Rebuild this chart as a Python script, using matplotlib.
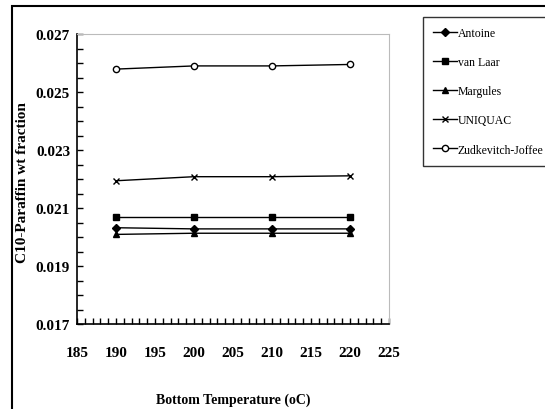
import numpy as np
from matplotlib import pyplot as plt
from matplotlib.patches import Rectangle
from matplotlib.ticker import MultipleLocator

plt.rcParams['font.family'] = ['Liberation Serif', 'DejaVu Serif']

# Data
temps = [190, 200, 210, 220]
antoine = [0.02032, 0.02028, 0.02028, 0.02028]
van_laar = [0.02070, 0.02070, 0.02070, 0.02070]
margules = [0.02009, 0.02013, 0.02013, 0.02013]
uniquac = [0.02194, 0.02208, 0.02208, 0.02211]
zudkevitch = [0.02579, 0.02590, 0.02590, 0.02595]
y_ticks = [0.017, 0.019, 0.021, 0.023, 0.025, 0.027]

series = [
    ('Antoine', antoine, 'D', 'black', 4),
    ('van Laar', van_laar, 's', 'black', 5),
    ('Margules', margules, '^', 'black', 5),
    ('UNIQUAC', uniquac, 'x', 'black', 4),
    ('Zudkevitch-Joffee', zudkevitch, 'o', 'white', 4.5),
]

fig = plt.figure(figsize=(5.45, 4.10), dpi=100)
ax = fig.add_axes([0.1413, 0.2073, 0.5725, 0.7073])

for name, vals, mk, fc, ms in series:
    ax.plot(temps, vals, color='black', linewidth=1.0, marker=mk,
            markersize=ms, markerfacecolor=fc, markeredgecolor='black',
            markeredgewidth=1.0, label=name)

ax.set_xlim(185, 225)
ax.set_ylim(0.017, 0.027)
ax.xaxis.set_major_locator(MultipleLocator(5))
ax.xaxis.set_minor_locator(MultipleLocator(1))
ax.set_yticks(y_ticks)
ax.set_yticklabels([f'{v:.3f}' for v in y_ticks])
ax.yaxis.set_minor_locator(MultipleLocator(0.0005))
ax.tick_params(which='both', direction='in', length=4, width=1, top=False, right=False)
ax.tick_params(axis='x', which='major', pad=16)
ax.tick_params(axis='y', which='major', pad=5)
for lbl in ax.get_xticklabels() + ax.get_yticklabels():
    lbl.set_fontweight('bold')
    lbl.set_fontsize(11)

for s in ['top', 'right']:
    ax.spines[s].set_color('#bbbbbb')
for s in ['left', 'bottom']:
    ax.spines[s].set_linewidth(1.2)

ax.set_xlabel('Bottom Temperature (oC)', fontweight='bold', fontsize=10, labelpad=24)
ax.set_ylabel('C10-Paraffin wt fraction', fontweight='bold', fontsize=11)
ax.yaxis.set_label_coords(-0.155, 0.49)

leg = fig.legend(loc='upper left', bbox_to_anchor=(423 / 545, 1 - 18 / 410), fontsize=8.5,
                 frameon=True, fancybox=False, edgecolor='black', handlelength=2.0,
                 handletextpad=0.1, labelspacing=1.45, borderpad=0.85, borderaxespad=0)
leg.get_frame().set_linewidth(1.0)

# outer chart border
fig.patches.append(Rectangle((12 / 545, -0.05), 1.0, 0.983 + 0.05, transform=fig.transFigure,
                             fill=False, edgecolor='black', linewidth=1.5))

fig.savefig('out.png', dpi=100)
